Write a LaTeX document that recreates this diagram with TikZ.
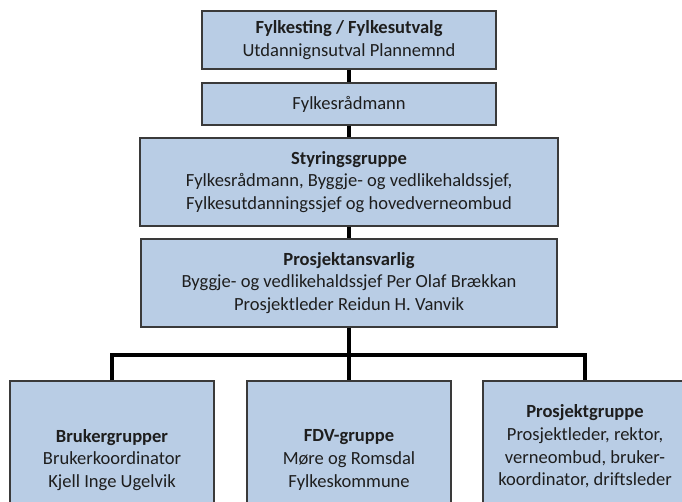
\documentclass[tikz,border=0pt]{standalone}
\usepackage{fontspec}
\setmainfont{Carlito}
\definecolor{boxfill}{HTML}{B9CDE5}
\definecolor{boxline}{HTML}{3A3A3A}
\definecolor{ink}{HTML}{1E1E1E}
\begin{document}
\begin{tikzpicture}[x=0.75pt,y=-0.75pt,
  orgbox/.style={draw=boxline, fill=boxfill, line width=1.1pt, rectangle,
    inner sep=0pt, align=center, text=ink,
    font=\fontsize{13.9}{17}\selectfont},
  size/.style 2 args={minimum width=#1*0.75pt, minimum height=#2*0.75pt},
  conn/.style={draw=black, line width=2.3pt, line join=miter}]
\useasboundingbox (0,0) rectangle (682,502);
\clip (0,0) rectangle (682,502);

% upper chain of bodies
\node[orgbox, size={294}{58}] (ting) at (349,40)
  {\textbf{Fylkesting / Fylkesutvalg}\\Utdannignsutval Plannemnd};
\node[orgbox, size={294}{42}] (radmann) at (349,104) {Fylkesrådmann};
\node[orgbox, size={418}{88}] (styring) at (349,182)
  {\textbf{Styringsgruppe}\\Fylkesrådmann, Byggje- og vedlikehaldssjef,\\Fylkesutdanningssjef og hovedverneombud};
\node[orgbox, size={416}{88}] (ansvar) at (349,283)
  {\textbf{Prosjektansvarlig}\\Byggje- og vedlikehaldssjef Per Olaf Brækkan\\Prosjektleder Reidun H. Vanvik};

% working groups
\node[orgbox, size={204}{158}] (bruker) at (112,460)
  {\textbf{Brukergrupper}\\Brukerkoordinator\\Kjell Inge Ugelvik};
\node[orgbox, size={204}{158}] (fdv) at (349,460)
  {\textbf{FDV-gruppe}\\Møre og Romsdal\\Fylkeskommune};
\node[orgbox, size={204}{131}] (prosjekt) at (585,446.5)
  {\textbf{Prosjektgruppe}\\Prosjektleder, rektor,\\verneombud, bruker-\\koordinator, driftsleder};

% connectors
\coordinate (bus) at (349,355);
\draw[conn] (ting) -- (radmann);
\draw[conn] (radmann) -- (styring);
\draw[conn] (styring) -- (ansvar);
\draw[conn] (ansvar.south) -- (fdv.north);
\draw[conn] (bruker.north) -- (bruker.north |- bus) -- (prosjekt.north |- bus) -- (prosjekt.north);
\end{tikzpicture}
\end{document}
